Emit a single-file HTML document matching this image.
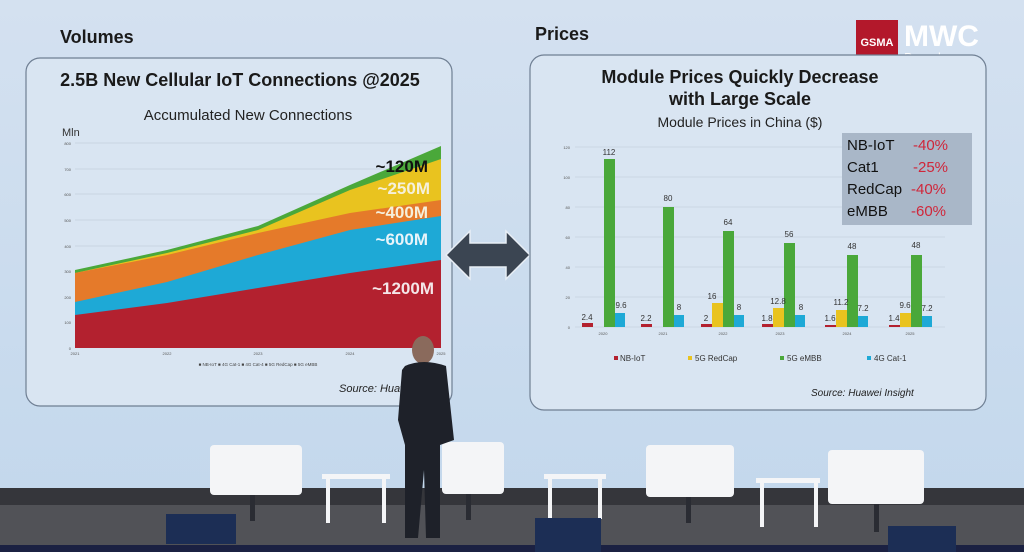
<!DOCTYPE html>
<html><head><meta charset="utf-8"><style>
html,body{margin:0;padding:0;width:1024px;height:552px;overflow:hidden;background:#cfdcec;font-family:"Liberation Sans",sans-serif}
</style></head><body>
<svg width="1024" height="552" viewBox="0 0 1024 552" xmlns="http://www.w3.org/2000/svg" font-family="Liberation Sans, sans-serif">
<defs>
<linearGradient id="bg" x1="0" y1="0" x2="0" y2="1"><stop offset="0" stop-color="#d4e1f0"/><stop offset="1" stop-color="#c2d7ec"/></linearGradient>
</defs>
<rect width="1024" height="552" fill="url(#bg)"/>
<!-- stage floor -->
<rect x="0" y="488" width="1024" height="17" fill="#35363b"/>
<rect x="0" y="505" width="1024" height="40" fill="#515257"/>
<rect x="0" y="545" width="1024" height="7" fill="#1b2142"/>
<!-- titles -->
<text x="60" y="43" font-size="18" font-weight="bold" fill="#1a1a1a">Volumes</text>
<text x="535" y="40" font-size="18" font-weight="bold" fill="#1a1a1a">Prices</text>
<!-- MWC logo -->
<rect x="856" y="20" width="42" height="42" fill="#b3182b"/>
<text x="877" y="46" font-size="11" font-weight="bold" fill="#fff" text-anchor="middle">GSMA</text>
<text x="904" y="46" font-size="30" font-weight="bold" fill="#fff">MWC</text>
<text x="904" y="62" font-size="13" fill="#fff">Barcelona</text>
<!-- left panel -->
<rect x="26" y="58" width="426" height="348" rx="14" fill="#d9e5f2" stroke="#6f7f93" stroke-width="1.2"/>
<text x="240" y="86" font-size="18" font-weight="bold" fill="#1a1a1a" text-anchor="middle">2.5B New Cellular IoT Connections @2025</text>
<text x="248" y="120" font-size="15" fill="#222" text-anchor="middle">Accumulated New Connections</text>
<text x="62" y="136" font-size="11" fill="#333">Mln</text>
<g stroke="#b9c5d4" stroke-width="0.6">
<line x1="75" y1="143" x2="441" y2="143"/><line x1="75" y1="169" x2="441" y2="169"/><line x1="75" y1="194" x2="441" y2="194"/><line x1="75" y1="220" x2="441" y2="220"/><line x1="75" y1="246" x2="441" y2="246"/><line x1="75" y1="271" x2="441" y2="271"/><line x1="75" y1="297" x2="441" y2="297"/><line x1="75" y1="322" x2="441" y2="322"/>
</g>
<g font-size="4" fill="#555" text-anchor="end">
<text x="71" y="145">800</text><text x="71" y="171">700</text><text x="71" y="196">600</text><text x="71" y="222">500</text><text x="71" y="248">400</text><text x="71" y="273">300</text><text x="71" y="299">200</text><text x="71" y="324">100</text><text x="71" y="350">0</text>
</g>
<polygon points="75,270 167,250 258,226 350,185 441,146 441,348 75,348" fill="#4aa83a"/>
<polygon points="75,273 167,253 258,230 350,190 441,159 441,348 75,348" fill="#e9c31f"/>
<polygon points="75,273 167,255 258,233 350,213 441,200 441,348 75,348" fill="#e57a2a"/>
<polygon points="75,302 167,282 258,255 350,230 441,216 441,348 75,348" fill="#1ea9d6"/>
<polygon points="75,315 167,303 258,288 350,273 441,260 441,348 75,348" fill="#b3212f"/>
<g font-size="4" fill="#555" text-anchor="middle">
<text x="75" y="355">2021</text><text x="167" y="355">2022</text><text x="258" y="355">2023</text><text x="350" y="355">2024</text><text x="441" y="355">2025</text>
</g>
<text x="258" y="366" font-size="4.5" fill="#444" text-anchor="middle">■ NB-IoT  ■ 4G Cat-1  ■ 4G Cat-4  ■ 5G RedCap  ■ 5G eMBB</text>
<g font-size="17" font-weight="bold" text-anchor="end">
<text x="428" y="172" fill="#111">~120M</text>
<text x="430" y="194" fill="#f5f0dc">~250M</text>
<text x="428" y="218" fill="#f5f0dc">~400M</text>
<text x="428" y="245" fill="#e8f4fa">~600M</text>
<text x="434" y="294" fill="#f4e6e8">~1200M</text>
</g>
<text x="339" y="392" font-size="11" font-style="italic" fill="#222">Source: Huawei</text>
<!-- arrow -->
<polygon points="446,255 470,231 470,243 506,243 506,231 530,255 506,279 506,267 470,267 470,279" fill="#3b4552" stroke="#e8eef5" stroke-width="1.5"/>
<!-- right panel -->
<rect x="530" y="55" width="456" height="355" rx="14" fill="#d9e5f2" stroke="#6f7f93" stroke-width="1.2"/>
<text x="740" y="83" font-size="18" font-weight="bold" fill="#1a1a1a" text-anchor="middle">Module Prices Quickly Decrease</text>
<text x="740" y="105" font-size="18" font-weight="bold" fill="#1a1a1a" text-anchor="middle">with Large Scale</text>
<text x="740" y="127" font-size="14" fill="#222" text-anchor="middle">Module Prices in China ($)</text>
<g stroke="#bdc8d6" stroke-width="0.6">
<line x1="575" y1="147" x2="945" y2="147"/><line x1="575" y1="177" x2="945" y2="177"/><line x1="575" y1="207" x2="945" y2="207"/><line x1="575" y1="237" x2="945" y2="237"/><line x1="575" y1="267" x2="945" y2="267"/><line x1="575" y1="297" x2="945" y2="297"/><line x1="575" y1="327" x2="945" y2="327"/>
</g>
<g font-size="4" fill="#555" text-anchor="end">
<text x="570" y="149">120</text><text x="570" y="179">100</text><text x="570" y="209">80</text><text x="570" y="239">60</text><text x="570" y="269">40</text><text x="570" y="299">20</text><text x="570" y="329">0</text>
</g>
<g>
<rect x="582" y="323" width="11" height="4" fill="#b3212f"/><rect x="604" y="159" width="11" height="168" fill="#4aa83a"/><rect x="615" y="313" width="10" height="14" fill="#1ea9d6"/>
<rect x="641" y="324" width="11" height="3" fill="#b3212f"/><rect x="663" y="207" width="11" height="120" fill="#4aa83a"/><rect x="674" y="315" width="10" height="12" fill="#1ea9d6"/>
<rect x="701" y="324" width="11" height="3" fill="#b3212f"/><rect x="712" y="303" width="11" height="24" fill="#e9c31f"/><rect x="723" y="231" width="11" height="96" fill="#4aa83a"/><rect x="734" y="315" width="10" height="12" fill="#1ea9d6"/>
<rect x="762" y="324" width="11" height="3" fill="#b3212f"/><rect x="773" y="308" width="11" height="19" fill="#e9c31f"/><rect x="784" y="243" width="11" height="84" fill="#4aa83a"/><rect x="795" y="315" width="10" height="12" fill="#1ea9d6"/>
<rect x="825" y="325" width="11" height="2" fill="#b3212f"/><rect x="836" y="310" width="11" height="17" fill="#e9c31f"/><rect x="847" y="255" width="11" height="72" fill="#4aa83a"/><rect x="858" y="316" width="10" height="11" fill="#1ea9d6"/>
<rect x="889" y="325" width="11" height="2" fill="#b3212f"/><rect x="900" y="313" width="11" height="14" fill="#e9c31f"/><rect x="911" y="255" width="11" height="72" fill="#4aa83a"/><rect x="922" y="316" width="10" height="11" fill="#1ea9d6"/>
</g>
<g font-size="8" fill="#333" text-anchor="middle">
<text x="587" y="320">2.4</text><text x="609" y="155">112</text><text x="621" y="308">9.6</text>
<text x="646" y="321">2.2</text><text x="668" y="201">80</text><text x="679" y="310">8</text>
<text x="706" y="321">2</text><text x="712" y="299">16</text><text x="728" y="225">64</text><text x="739" y="310">8</text>
<text x="767" y="321">1.8</text><text x="778" y="304">12.8</text><text x="789" y="237">56</text><text x="801" y="310">8</text>
<text x="830" y="321">1.6</text><text x="841" y="305">11.2</text><text x="852" y="249">48</text><text x="863" y="311">7.2</text>
<text x="894" y="321">1.4</text><text x="905" y="308">9.6</text><text x="916" y="248">48</text><text x="927" y="311">7.2</text>
</g>
<g font-size="4" fill="#555" text-anchor="middle">
<text x="603" y="335">2020</text><text x="663" y="335">2021</text><text x="723" y="335">2022</text><text x="780" y="335">2023</text><text x="847" y="335">2024</text><text x="910" y="335">2025</text>
</g>
<g font-size="8" fill="#333">
<rect x="614" y="356" width="4" height="4" fill="#b3212f"/><text x="620" y="361">NB-IoT</text>
<rect x="688" y="356" width="4" height="4" fill="#e9c31f"/><text x="695" y="361">5G RedCap</text>
<rect x="780" y="356" width="4" height="4" fill="#4aa83a"/><text x="787" y="361">5G eMBB</text>
<rect x="867" y="356" width="4" height="4" fill="#1ea9d6"/><text x="874" y="361">4G Cat-1</text>
</g>
<text x="811" y="396" font-size="10" font-style="italic" fill="#222">Source: Huawei Insight</text>
<rect x="842" y="133" width="130" height="92" fill="#a9b7c8"/>
<g font-size="15">
<text x="847" y="150" fill="#111">NB-IoT</text><text x="913" y="150" fill="#d0263a">-40%</text>
<text x="847" y="172" fill="#111">Cat1</text><text x="913" y="172" fill="#d0263a">-25%</text>
<text x="847" y="194" fill="#111">RedCap</text><text x="911" y="194" fill="#d0263a">-40%</text>
<text x="847" y="216" fill="#111">eMBB</text><text x="911" y="216" fill="#d0263a">-60%</text>
</g>
<!-- chairs and tables -->
<g fill="#f4f5f7">
<rect x="210" y="445" width="92" height="50" rx="4"/><rect x="442" y="442" width="62" height="52" rx="4"/><rect x="646" y="445" width="88" height="52" rx="4"/><rect x="828" y="450" width="96" height="54" rx="4"/>
<rect x="322" y="474" width="68" height="5"/><rect x="326" y="479" width="4" height="44"/><rect x="382" y="479" width="4" height="44"/>
<rect x="544" y="474" width="62" height="5"/><rect x="548" y="479" width="4" height="40"/><rect x="598" y="479" width="4" height="40"/>
<rect x="756" y="478" width="64" height="5"/><rect x="760" y="483" width="4" height="44"/><rect x="814" y="483" width="4" height="44"/>
</g>
<g fill="#2a2c33"><rect x="250" y="495" width="5" height="26"/><rect x="466" y="494" width="5" height="26"/><rect x="686" y="497" width="5" height="26"/><rect x="874" y="504" width="5" height="28"/></g>
<rect x="166" y="514" width="70" height="30" fill="#1c2e55"/><rect x="535" y="518" width="66" height="34" fill="#1c2e55"/><rect x="888" y="526" width="68" height="26" fill="#1c2e55"/>
<!-- presenter -->
<g fill="#1e2129">
<ellipse cx="423" cy="350" rx="11" ry="14" fill="#8a6a5c"/>
<path d="M405 366 Q423 358 446 366 L454 440 L440 445 L440 538 L426 538 L424 470 L418 538 L405 538 L405 445 L398 420 L402 370 Z"/>
</g>
</svg>
</body></html>
